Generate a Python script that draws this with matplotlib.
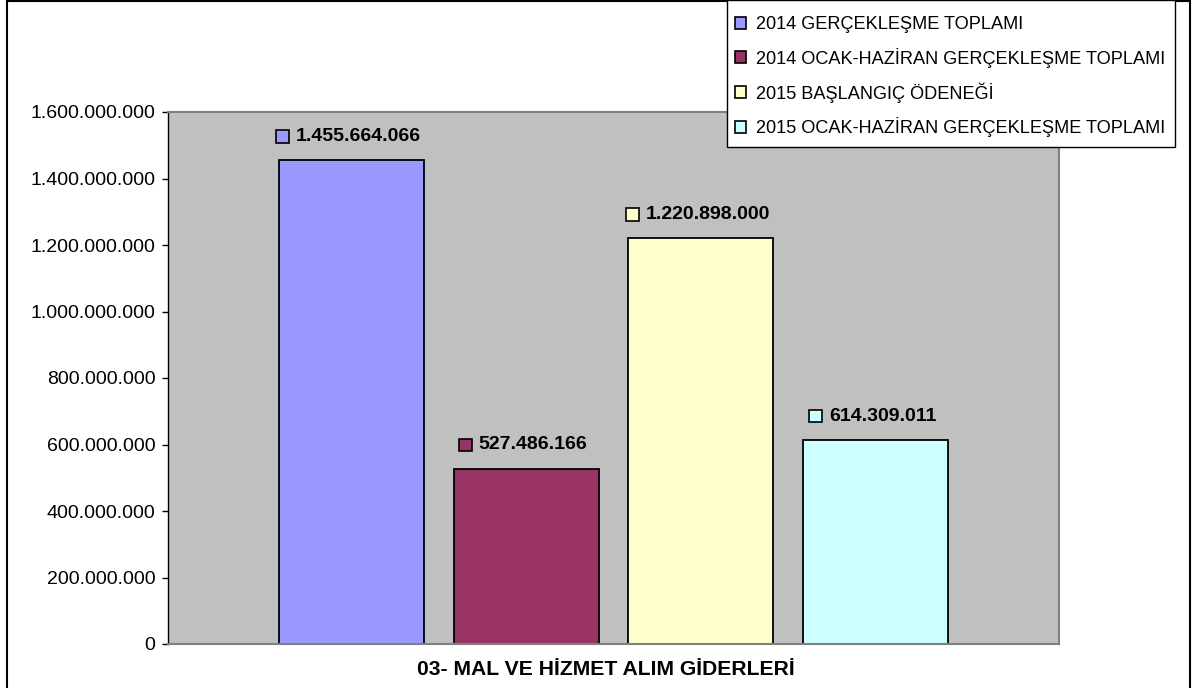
import matplotlib
matplotlib.use("Agg")
import matplotlib.pyplot as plt
from matplotlib.patches import Rectangle
from matplotlib.offsetbox import AnnotationBbox, HPacker, DrawingArea, TextArea
from matplotlib.ticker import FuncFormatter, MultipleLocator

plt.rcParams['font.family'] = ['Liberation Sans', 'DejaVu Sans']

series = ["2014 GERÇEKLEŞME TOPLAMI",
          "2014 OCAK-HAZİRAN GERÇEKLEŞME TOPLAMI",
          "2015 BAŞLANGIÇ ÖDENEĞİ",
          "2015 OCAK-HAZİRAN GERÇEKLEŞME TOPLAMI"]
values = [1455664066, 527486166, 1220898000, 614309011]
colors = ["#9999FF", "#993366", "#FFFFCC", "#CCFFFF"]
category = "03- MAL VE HİZMET ALIM GİDERLERİ"


def dotted(v):
    return f"{int(v):,}".replace(",", ".")


W, H = 1196, 688
fig = plt.figure(figsize=(W / 100, H / 100), dpi=100)
ax = fig.add_axes([168 / W, 1 - 644 / H, (1059 - 168) / W, (644 - 112) / H])
ax.set_facecolor("#C0C0C0")

for i, (name, v, c) in enumerate(zip(series, values, colors)):
    ax.bar(i, v, width=0.83, color=c, edgecolor="black", linewidth=1.3, label=name, zorder=2)
    # value label: small coloured square + bold number
    sq = DrawingArea(9, 9, 0, 0)
    sq.add_artist(Rectangle((0, 0), 9, 9, facecolor=c, edgecolor="black", linewidth=1.2))
    txt = TextArea(dotted(v), textprops=dict(fontsize=14, fontweight="bold"))
    box = HPacker(children=[sq, txt], align="center", pad=0, sep=5)
    ab = AnnotationBbox(box, (i, v), xybox=(-2, 17), xycoords="data",
                        boxcoords="offset points", frameon=False, box_alignment=(0.5, 0.5))
    ax.add_artist(ab)

ax.set_xlim(-1.05, 4.05)
ax.set_ylim(0, 1600000000)
ax.yaxis.set_major_locator(MultipleLocator(200000000))
ax.yaxis.set_major_formatter(FuncFormatter(lambda v, p: dotted(v)))
ax.tick_params(axis="y", direction="out", length=4, width=1, labelsize=14, pad=5)
ax.set_xticks([])
ax.set_xlabel(category, fontsize=15.2, fontweight="bold")
ax.xaxis.set_label_coords(0.491, -0.030)

for s in ["top", "right", "bottom"]:
    ax.spines[s].set_color("#808080")
    ax.spines[s].set_linewidth(1.5)
ax.spines["left"].set_color("black")
ax.spines["left"].set_linewidth(1)

leg = fig.legend(loc="upper left", bbox_to_anchor=(727 / W, 1 - 8 / H), fontsize=13.1,
                 handlelength=0.62, handleheight=0.62, handletextpad=0.5,
                 labelspacing=0.8, borderpad=0.45, borderaxespad=0, frameon=False)
for h in leg.legend_handles:
    h.set_linewidth(1.2)

# legend frame, drawn by hand
fig.patches.append(Rectangle((727 / W, 1 - 147 / H), (1175 - 727) / W, 147 / H,
                             transform=fig.transFigure, facecolor="white",
                             edgecolor="black", linewidth=1, zorder=5))
leg.set_zorder(6)

# outer chart border
fig.patches.append(Rectangle((7 / W, -0.01), (1190 - 7) / W, 1.0 + 0.01 - 1 / H,
                             transform=fig.transFigure, fill=False,
                             edgecolor="black", linewidth=1.5))

fig.savefig("out.png", dpi=100)
